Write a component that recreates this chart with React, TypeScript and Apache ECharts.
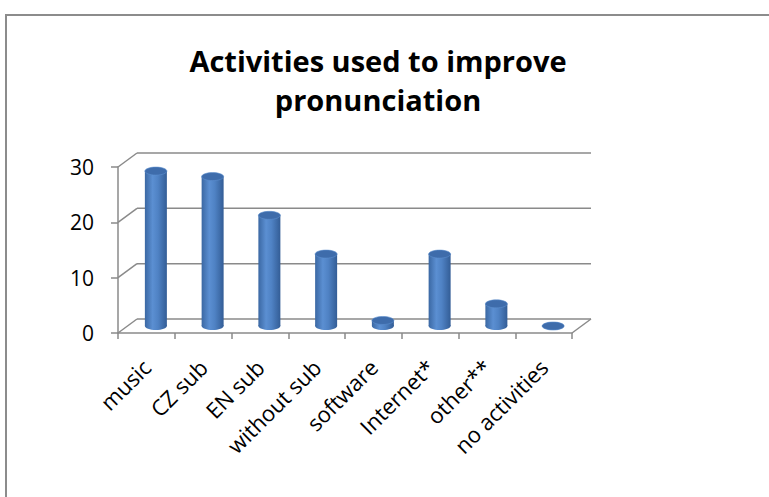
import React, { useEffect, useRef } from "react";
import * as echarts from "echarts";

const categories = ["music", "CZ sub", "EN sub", "without sub", "software", "Internet*", "other**", "no activities"];
const values = [28, 27, 20, 13, 1, 13, 4, 0];
const yTicks = [0, 10, 20, 30];
const titleLines = ["Activities used to improve", "pronunciation"];

const DX = 19;
const DY = -14;
const RX = 11;
const RY = 4;
const GRID_COLOR = "#8a8a8a";
const FONT = "'Open Sans', 'Noto Sans', sans-serif";

export default function App() {
  const ref = useRef<HTMLDivElement>(null);
  useEffect(() => {
    if (!ref.current) return;
    const chart = echarts.init(ref.current, null, { renderer: "svg" });
    const bodyGrad = () =>
      new echarts.graphic.LinearGradient(0, 0, 1, 0, [
        { offset: 0, color: "#3b68a3" },
        { offset: 0.35, color: "#5b8fd2" },
        { offset: 0.6, color: "#4f82c4" },
        { offset: 1, color: "#335d96" },
      ]);
    const option: any = {
      animation: false,
      backgroundColor: "#ffffff",
      graphic: [
        {
          type: "rect",
          shape: { x: 6, y: 15, width: 900, height: 700 },
          style: { fill: "none", stroke: "#8c8c8c", lineWidth: 2 },
          silent: true,
        },
        {
          type: "text",
          x: 378,
          y: 41,
          style: {
            text: titleLines.join("\n"),
            font: `bold 29px ${FONT}`,
            fill: "#000000",
            textAlign: "center",
            textVerticalAlign: "top",
            lineHeight: 39,
          },
        },
      ],
      grid: { left: 118, right: 197, top: 167, bottom: 164, containLabel: false },
      xAxis: {
        type: "category",
        data: categories,
        boundaryGap: true,
        axisLine: { show: true, lineStyle: { color: GRID_COLOR, width: 1.5 } },
        axisTick: { show: true, length: 6, lineStyle: { color: GRID_COLOR, width: 1.5 } },
        axisLabel: {
          interval: 0,
          rotate: 45,
          margin: 30,
          color: "#000000",
          fontSize: 22,
          fontFamily: FONT,
        },
        splitLine: { show: false },
      },
      yAxis: {
        type: "value",
        min: 0,
        max: 30,
        interval: 10,
        axisLine: { show: true, lineStyle: { color: GRID_COLOR, width: 1.5 } },
        axisTick: { show: true, length: 7, lineStyle: { color: GRID_COLOR, width: 1.5 } },
        axisLabel: { margin: 24, color: "#000000", fontSize: 21, fontFamily: FONT },
        splitLine: { show: false },
      },
      series: [
        {
          type: "custom",
          z: 1,
          silent: true,
          data: yTicks.map((t) => [0, t]),
          encode: { x: 0, y: 1 },
          renderItem: (params: any, api: any) => {
            const v = api.value(1);
            const cs = params.coordSys;
            const y = api.coord([0, v])[1];
            const x0 = cs.x;
            const x1 = cs.x + cs.width;
            const style = { stroke: GRID_COLOR, lineWidth: 1.5 };
            const children: any[] = [
              { type: "line", shape: { x1: x0, y1: y, x2: x0 + DX, y2: y + DY }, style },
              { type: "line", shape: { x1: x0 + DX, y1: y + DY, x2: x1 + DX, y2: y + DY }, style },
            ];
            if (v === 0) {
              children.push({ type: "line", shape: { x1: x1, y1: y, x2: x1 + DX, y2: y + DY }, style });
            }
            return { type: "group", children };
          },
        },
        {
          type: "custom",
          z: 5,
          data: values.map((v, i) => [i, v]),
          encode: { x: 0, y: 1 },
          renderItem: (params: any, api: any) => {
            const i = api.value(0);
            const v = api.value(1);
            const top = api.coord([i, v]);
            const base = api.coord([i, 0]);
            const cx = top[0] + DX / 2;
            const ty = top[1] + DY / 2;
            const by = base[1] + DY / 2;
            const children: any[] = [];
            if (by - ty > 0.5) {
              children.push({
                type: "rect",
                shape: { x: cx - RX, y: ty, width: 2 * RX, height: by - ty },
                style: { fill: bodyGrad() },
              });
            }
            children.push({
              type: "ellipse",
              shape: { cx, cy: by, rx: RX, ry: RY },
              style: { fill: bodyGrad() },
            });
            children.push({
              type: "ellipse",
              shape: { cx, cy: ty, rx: RX, ry: RY },
              style: { fill: "#3e6cab", stroke: "#5d8fcf", lineWidth: 0.6 },
            });
            return { type: "group", children };
          },
        },
      ],
    };
    chart.setOption(option);
    return () => chart.dispose();
  }, []);
  return (
    <div
      ref={ref}
      style={{ position: "fixed", left: 0, top: 0, width: 769, height: 497 }}
    />
  );
}
